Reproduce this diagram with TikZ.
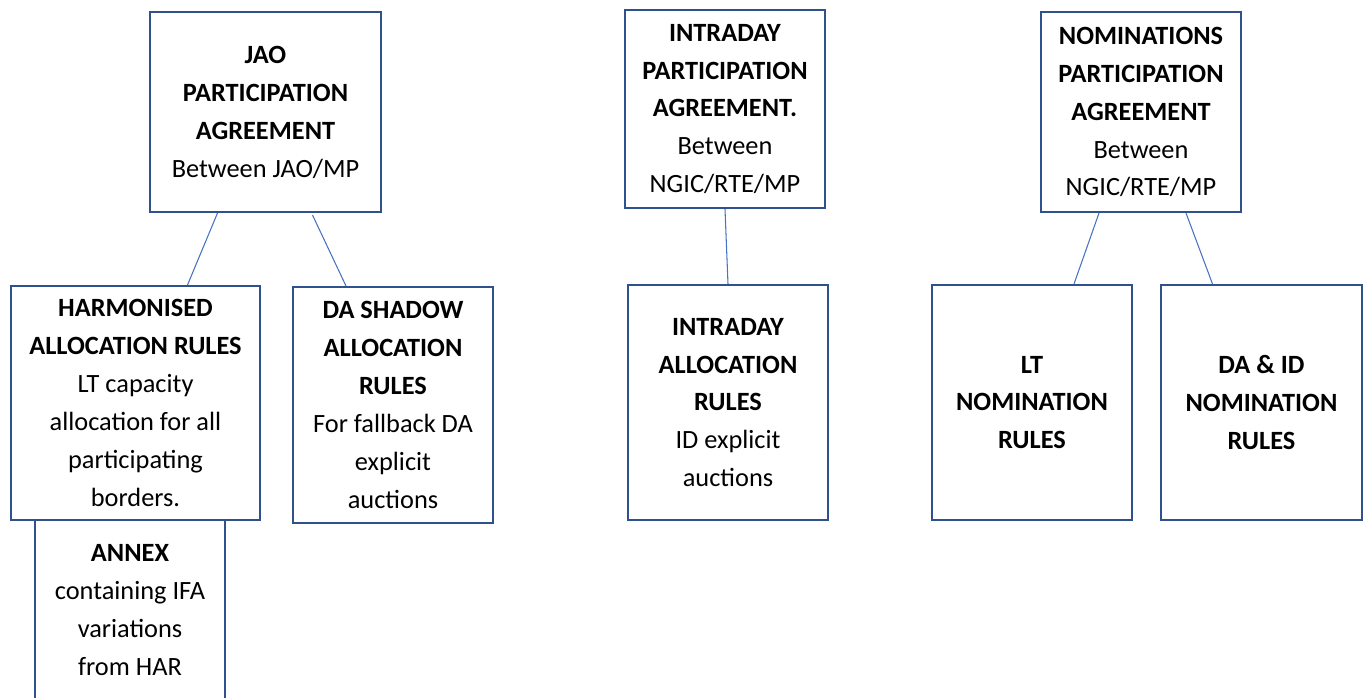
\documentclass[tikz,border=0pt]{standalone}
\usepackage{fontspec}
\setmainfont{Carlito}
\usepackage{tikz}
\usetikzlibrary{calc}
\definecolor{rahmen}{HTML}{2F528F}
\definecolor{linie}{HTML}{4472C4}

\begin{document}
\begin{tikzpicture}[x=0.02cm, y=-0.02cm,
    kasten/.style={draw=rahmen, line width=1.2pt, fill=white, inner sep=0pt, align=center,
        font=\fontsize{15}{21.6}\selectfont},
    verbindung/.style={draw=linie, line width=0.6pt}]
    \useasboundingbox (0,0) rectangle (1370,697);

    % Kaesten.
    \node[kasten, minimum width=3.8cm, minimum height=3.6cm] (annex) at (130,610)
        {\textbf{ANNEX}\\containing IFA\\variations\\from HAR};
    \node[kasten, minimum width=4.62cm, minimum height=4cm] (jao) at (265.5,112)
        {\textbf{JAO}\\\textbf{PARTICIPATION}\\\textbf{AGREEMENT}\\Between JAO/MP};
    \node[kasten, minimum width=4.98cm, minimum height=4.68cm] (har) at (135.5,403)
        {\textbf{HARMONISED}\\\textbf{ALLOCATION RULES}\\LT capacity\\allocation for all\\participating\\borders.};
    \node[kasten, minimum width=4cm, minimum height=4.72cm] (shadow) at (393,405)
        {\textbf{DA SHADOW}\\\textbf{ALLOCATION}\\\textbf{RULES}\\For fallback DA\\explicit\\auctions};
    \node[kasten, minimum width=4cm, minimum height=3.96cm] (idpa) at (725,109)
        {\textbf{INTRADAY}\\\textbf{PARTICIPATION}\\\textbf{AGREEMENT.}\\Between\\NGIC/RTE/MP};
    \node[kasten, minimum width=4cm, minimum height=4.7cm] (idar) at (728,402.5)
        {\textbf{INTRADAY}\\\textbf{ALLOCATION}\\\textbf{RULES}\\ID explicit\\auctions};
    \node[kasten, minimum width=4cm, minimum height=4cm] (nompa) at (1141,112)
        {\textbf{NOMINATIONS}\\\textbf{PARTICIPATION}\\\textbf{AGREEMENT}\\Between\\NGIC/RTE/MP};
    \node[kasten, minimum width=4cm, minimum height=4.7cm] (ltnom) at (1032,402.5)
        {\textbf{LT}\\\textbf{NOMINATION}\\\textbf{RULES}};
    \node[kasten, minimum width=4.02cm, minimum height=4.7cm] (daidnom) at (1261.5,402.5)
        {\textbf{DA \& ID}\\\textbf{NOMINATION}\\\textbf{RULES}};

    % Verbindungen.
    \draw[verbindung] ($(jao.south)+(-48,0)$) -- ($(har.north)+(52,0)$);
    \draw[verbindung] ($(jao.south)+(47,2)$) -- ($(shadow.north)+(-47,0)$);
    \draw[verbindung] (idpa.south) -- (idar.north);
    \draw[verbindung] ($(nompa.south)+(-42,0)$) -- ($(ltnom.north)+(42,0)$);
    \draw[verbindung] ($(nompa.south)+(45,0)$) -- ($(daidnom.north)+(-49,0)$);
\end{tikzpicture}
\end{document}
